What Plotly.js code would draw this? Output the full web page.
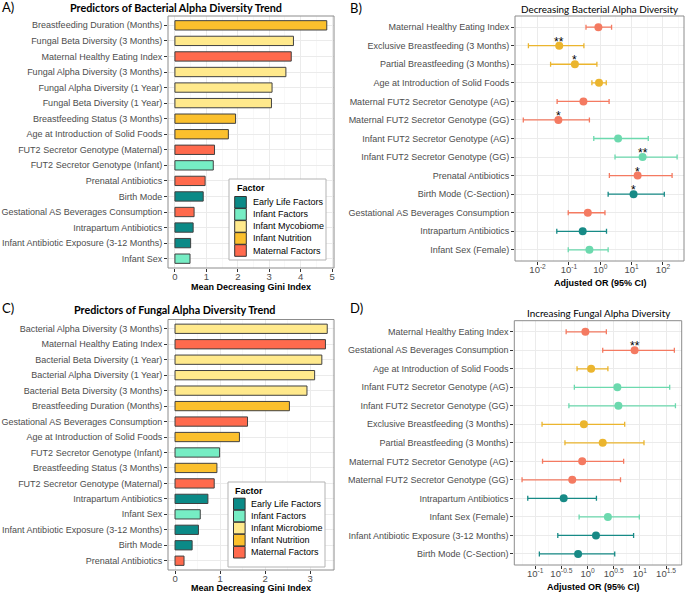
<!DOCTYPE html>
<html><head><meta charset="utf-8">
<script src="https://cdn.plot.ly/plotly-3.0.1.min.js"></script>
<style>html,body{margin:0;padding:0;background:#fff}#chart{width:685px;height:593px}</style>
</head><body><div id="chart"></div>
<script>
// ---------- Panel A data ----------
const aLabels = ["Breastfeeding Duration (Months)","Fungal Beta Diversity (3 Months)","Maternal Healthy Eating Index","Fungal Alpha Diversity (3 Months)","Fungal Alpha Diversity (1 Year)","Fungal Beta Diversity (1 Year)","Breastfeeding Status (3 Months)","Age at Introduction of Solid Foods","FUT2 Secretor Genotype (Maternal)","FUT2 Secretor Genotype (Infant)","Prenatal Antibiotics","Birth Mode","Gestational AS Beverages Consumption","Intrapartum Antibiotics","Infant Antibiotic Exposure (3-12 Months)","Infant Sex"];
const aValues = [4.83,3.77,3.70,3.53,3.09,3.07,1.93,1.70,1.26,1.22,0.96,0.90,0.61,0.58,0.50,0.48];
const aFactors = ["Infant Nutrition","Infant Mycobiome","Maternal Factors","Infant Mycobiome","Infant Mycobiome","Infant Mycobiome","Infant Nutrition","Infant Nutrition","Maternal Factors","Infant Factors","Maternal Factors","Early Life Factors","Maternal Factors","Early Life Factors","Early Life Factors","Infant Factors"];

// ---------- Panel C data ----------
const cLabels = ["Bacterial Alpha Diversity (3 Months)","Maternal Healthy Eating Index","Bacterial Beta Diversity (1 Year)","Bacterial Alpha Diversity (1 Year)","Bacterial Beta Diversity (3 Months)","Breastfeeding Duration (Months)","Gestational AS Beverages Consumption","Age at Introduction of Solid Foods","FUT2 Secretor Genotype (Infant)","Breastfeeding Status (3 Months)","FUT2 Secretor Genotype (Maternal)","Intrapartum Antibiotics","Infant Sex","Infant Antibiotic Exposure (3-12 Months)","Birth Mode","Prenatal Antibiotics"];
const cValues = [3.38,3.34,3.26,3.10,2.93,2.54,1.61,1.43,0.99,0.93,0.87,0.73,0.56,0.52,0.38,0.20];
const cFactors = ["Infant Microbiome","Maternal Factors","Infant Microbiome","Infant Microbiome","Infant Microbiome","Infant Nutrition","Maternal Factors","Infant Nutrition","Infant Factors","Infant Nutrition","Maternal Factors","Early Life Factors","Infant Factors","Early Life Factors","Early Life Factors","Maternal Factors"];

// ---------- Panel B data (odds ratios) ----------
const bLabels = ["Maternal Healthy Eating Index","Exclusive Breastfeeding (3 Months)","Partial Breastfeeding (3 Months)","Age at Introduction of Solid Foods","Maternal FUT2 Secretor Genotype (AG)","Maternal FUT2 Secretor Genotype (GG)","Infant FUT2 Secretor Genotype (AG)","Infant FUT2 Secretor Genotype (GG)","Prenatal Antibiotics","Birth Mode (C-Section)","Gestational AS Beverages Consumption","Intrapartum Antibiotics","Infant Sex (Female)"];
const bOR  = [0.87,0.049,0.155,0.91,0.29,0.046,3.7,22.4,15.5,11.5,0.40,0.275,0.45];
const bLow = [0.35,0.0051,0.026,0.54,0.042,0.0035,0.62,2.95,1.95,1.78,0.095,0.041,0.095];
const bHigh= [2.29,0.30,0.78,1.55,1.91,0.45,33.9,282,195,110,1.41,1.58,1.78];
const bSig = ["","**","*","","","*","","**","*","*","","",""];
const bFactors = ["Maternal Factors","Infant Nutrition","Infant Nutrition","Infant Nutrition","Maternal Factors","Maternal Factors","Infant Factors","Infant Factors","Maternal Factors","Early Life Factors","Maternal Factors","Early Life Factors","Infant Factors"];

// ---------- Panel D data (odds ratios) ----------
const dLabels = ["Maternal Healthy Eating Index","Gestational AS Beverages Consumption","Age at Introduction of Solid Foods","Infant FUT2 Secretor Genotype (AG)","Infant FUT2 Secretor Genotype (GG)","Exclusive Breastfeeding (3 Months)","Partial Breastfeeding (3 Months)","Maternal FUT2 Secretor Genotype (AG)","Maternal FUT2 Secretor Genotype (GG)","Intrapartum Antibiotics","Infant Sex (Female)","Infant Antibiotic Exposure (3-12 Months)","Birth Mode (C-Section)"];
const dOR  = [0.91,7.94,1.17,3.72,3.89,0.85,1.95,0.79,0.51,0.35,2.45,1.45,0.66];
const dLow = [0.39,1.95,0.63,0.56,0.44,0.135,0.37,0.138,0.056,0.072,0.69,0.27,0.12];
const dHigh= [2.29,45.7,2.45,37.2,47.9,5.13,12.0,4.9,4.27,1.48,9.77,7.59,3.31];
const dSig = ["","**","","","","","","","","","","",""];
const dFactors = ["Maternal Factors","Maternal Factors","Infant Nutrition","Infant Factors","Infant Factors","Infant Nutrition","Infant Nutrition","Maternal Factors","Maternal Factors","Early Life Factors","Infant Factors","Early Life Factors","Early Life Factors"];

// ---------- tick labels ----------
const bTickExp = [-2,-1,0,1,2];
const bTickText = ["10<sup>-2</sup>","10<sup>-1</sup>","10<sup>0</sup>","10<sup>1</sup>","10<sup>2</sup>"];
const dTickExp = [-1,-0.5,0,0.5,1,1.5];
const dTickText = ["10<sup>-1</sup>","10<sup>-0.5</sup>","10<sup>0</sup>","10<sup>0.5</sup>","10<sup>1</sup>","10<sup>1.5</sup>"];
const legendA = ["Early Life Factors","Infant Factors","Infant Mycobiome","Infant Nutrition","Maternal Factors"];
const legendC = ["Early Life Factors","Infant Factors","Infant Microbiome","Infant Nutrition","Maternal Factors"];

// ---------- styles ----------
const barColors = {"Early Life Factors":"#0B8A87","Infant Factors":"#76EDC4","Infant Mycobiome":"#FFE98C","Infant Microbiome":"#FFE98C","Infant Nutrition":"#FBC02D","Maternal Factors":"#FF6A4D"};
const pointColors = {"Early Life Factors":"#178A86","Infant Factors":"#6CD9AE","Infant Nutrition":"#EBB52E","Maternal Factors":"#F47A61"};
const W = 685, H = 593;
const px = x => x / W, py = y => 1 - y / H;
const tickFont = {family:"Liberation Sans, Arial, sans-serif", size:9, color:"#4D4D4D"};
const numFont = {family:"Liberation Sans, Arial, sans-serif", size:9.5, color:"#4D4D4D"};

const traces = [];
traces.push({type:"bar", orientation:"h", x:aValues, y:aLabels, xaxis:"x", yaxis:"y", width:0.6,
  marker:{color:aFactors.map(f=>barColors[f]), line:{color:"#404040", width:1}}, showlegend:false, hoverinfo:"x+y"});
traces.push({type:"bar", orientation:"h", x:cValues, y:cLabels, xaxis:"x3", yaxis:"y3", width:0.6,
  marker:{color:cFactors.map(f=>barColors[f]), line:{color:"#404040", width:1}}, showlegend:false, hoverinfo:"x+y"});

const annotations = [];
function forest(labels, or, lo, hi, sig, factors, xa, ya){
  const groups = [...new Set(factors)];
  groups.forEach(g => {
    const idx = factors.map((f,i)=>f===g?i:-1).filter(i=>i>=0);
    traces.push({type:"scatter", mode:"markers", xaxis:xa, yaxis:ya, showlegend:false,
      x: idx.map(i=>or[i]), y: idx.map(i=>labels[i]),
      marker:{color:pointColors[g], size:8},
      error_x:{type:"data", symmetric:false, array: idx.map(i=>hi[i]-or[i]), arrayminus: idx.map(i=>or[i]-lo[i]),
        color:pointColors[g], thickness:1.3, width:2.5}});
  });
  sig.forEach((s,i)=>{ if(s){ annotations.push({xref:xa, yref:ya, x:Math.log10(or[i]), y:i, text:s, showarrow:false,
     yshift:4, font:{family:"Liberation Sans, Arial, sans-serif", size:12, color:"#000"}}); }});
}
forest(bLabels,bOR,bLow,bHigh,bSig,bFactors,"x2","y2");
forest(dLabels,dOR,dLow,dHigh,dSig,dFactors,"x4","y4");

const gridMajor = "#EBEBEB";
function catAxis(domain, labels){
  return {domain:domain, type:"category", categoryorder:"array", categoryarray:labels, range:[labels.length-1+0.6,-0.6],
    showgrid:true, gridcolor:gridMajor, gridwidth:1, ticks:"outside", ticklen:3, tickcolor:"#333", tickfont:tickFont,
    showline:false, zeroline:false, fixedrange:true};
}
const xCommon = {ticks:"outside", ticklen:3, tickcolor:"#333", tickfont:numFont, zeroline:false, ticklabelstandoff:-3, showgrid:true, gridcolor:gridMajor};
const layout = {
  width:W, height:H, margin:{l:0,r:0,t:0,b:0}, paper_bgcolor:"#fff", plot_bgcolor:"#fff", showlegend:false,
  font:{family:"Liberation Sans, Arial, sans-serif"},
  xaxis:Object.assign({domain:[px(168),px(334)], anchor:"y", range:[-0.22,5.06], dtick:1, tick0:0,
    minor:{dtick:0.5, tick0:0, showgrid:true, gridcolor:"#F3F3F3", gridwidth:0.6}}, xCommon),
  yaxis:Object.assign(catAxis([py(268),py(16)], aLabels), {anchor:"x"}),
  xaxis2:Object.assign({domain:[px(515),px(684)], anchor:"y2", type:"log", range:[-2.72,2.67], tickmode:"array",
    tickvals:bTickExp.map(e=>Math.pow(10,e)), ticktext:bTickText,
    minor:{tickmode:"array", tickvals:[-2.5,-1.5,-0.5,0.5,1.5,2.5].map(e=>Math.pow(10,e)), showgrid:true, gridcolor:"#F3F3F3", gridwidth:0.6, ticks:""}}, xCommon),
  yaxis2:Object.assign(catAxis([py(261),py(16)], bLabels), {anchor:"x2"}),
  xaxis3:Object.assign({domain:[px(168),px(334)], anchor:"y3", range:[-0.156,3.53], dtick:1, tick0:0,
    minor:{dtick:0.5, tick0:0, showgrid:true, gridcolor:"#F3F3F3", gridwidth:0.6}}, xCommon),
  yaxis3:Object.assign(catAxis([py(570),py(319.5)], cLabels), {anchor:"x3"}),
  xaxis4:Object.assign({domain:[px(514.3),px(681.7)], anchor:"y4", type:"log", range:[-1.40,1.80], tickmode:"array",
    tickvals:dTickExp.map(e=>Math.pow(10,e)), ticktext:dTickText,
    minor:{tickmode:"array", tickvals:[-1.25,-0.75,-0.25,0.25,0.75,1.25,1.75].map(e=>Math.pow(10,e)), showgrid:true, gridcolor:"#F3F3F3", gridwidth:0.6, ticks:""}}, xCommon),
  yaxis4:Object.assign(catAxis([py(565),py(320.7)], dLabels), {anchor:"x4"}),
  shapes:[], annotations:annotations
};

// panel borders
[["x","y"],["x2","y2"],["x3","y3"],["x4","y4"]].forEach(([xa,ya])=>{
  layout.shapes.push({type:"rect", xref:xa+" domain", yref:ya+" domain", x0:0,x1:1,y0:0,y1:1, line:{color:"#8C8C8C", width:1}, layer:"above"});
});
// reference lines at OR = 1
const refOR = 1;
["x2","x4"].forEach((xa,k)=>{
  const ya = k===0?"y2":"y4";
  layout.shapes.push({type:"line", xref:xa, yref:ya+" domain", x0:Math.log10(refOR), x1:Math.log10(refOR), y0:0, y1:1, line:{color:"#222", width:1.1, dash:"dash"}, layer:"below"});
});

// manual legends (ggplot-style)
function addLegend(box, titleX, titleY, keyX, rowY0, textX, names){
  layout.shapes.push({type:"rect", xref:"paper", yref:"paper", x0:px(box[0]), x1:px(box[2]), y0:py(box[3]), y1:py(box[1]),
    fillcolor:"#fff", line:{color:"#B3B3B3", width:1}, layer:"above"});
  annotations.push({xref:"paper", yref:"paper", x:px(titleX), y:py(titleY), xanchor:"left", yanchor:"middle", showarrow:false,
    text:"<b>Factor</b>", font:{family:"Liberation Sans, Arial, sans-serif", size:9, color:"#000"}});
  const step = 12.05, ks = 11.6;
  names.forEach((n,i)=>{
    const cy = rowY0 + i*step;
    layout.shapes.push({type:"rect", xref:"paper", yref:"paper", x0:px(keyX), x1:px(keyX+ks), y0:py(cy+ks/2), y1:py(cy-ks/2),
      fillcolor:barColors[n], line:{color:"#333", width:1}, layer:"above"});
    annotations.push({xref:"paper", yref:"paper", x:px(textX), y:py(cy), xanchor:"left", yanchor:"middle", showarrow:false,
      text:n, font:{family:"Liberation Sans, Arial, sans-serif", size:9, color:"#000"}});
  });
}
addLegend([229,179,326,260], 235, 188, 234.7, 202.3, 251.3, legendA);
addLegend([228,482,325,567], 232.7, 490.5, 233.5, 504, 249.3, legendC);

// titles & labels
const titleFont = {family:"Lato, Carlito, sans-serif", size:10.8, color:"#000"};
const subFont = {family:"Lato, Carlito, sans-serif", size:9.9, color:"#000"};
function txt(x,y,t,font,anchor){ annotations.push({xref:"paper", yref:"paper", x:px(x), y:py(y), xanchor:anchor||"center", yanchor:"middle", showarrow:false, text:t, font:font}); }
const labFont = {family:"Lato, sans-serif", size:13, color:"#000"};
txt(0,7,"A)",labFont,"left"); txt(348,7.5,"B)",labFont,"left"); txt(0,308,"C)",labFont,"left"); txt(348,308,"D)",labFont,"left");
txt(175.5,7,"<b>Predictors of Bacterial Alpha Diversity Trend</b>",titleFont);
txt(174.7,309,"<b>Predictors of Fungal Alpha Diversity Trend</b>",titleFont);
txt(600,9,"Decreasing Bacterial Alpha Diversity",subFont);
txt(599,313,"Increasing Fungal Alpha Diversity",subFont);
const axFont = {family:"Liberation Sans, Arial, sans-serif", size:9, color:"#000"};
txt(251,286.5,"<b>Mean Decreasing Gini Index</b>",axFont);
txt(251,587.5,"<b>Mean Decreasing Gini Index</b>",axFont);
txt(600,282.5,"<b>Adjusted OR (95% CI)</b>",axFont);
txt(593.5,586.5,"<b>Adjusted OR (95% CI)</b>",axFont);

Plotly.newPlot("chart", traces, layout, {displayModeBar:false, staticPlot:true});
</script></body></html>
